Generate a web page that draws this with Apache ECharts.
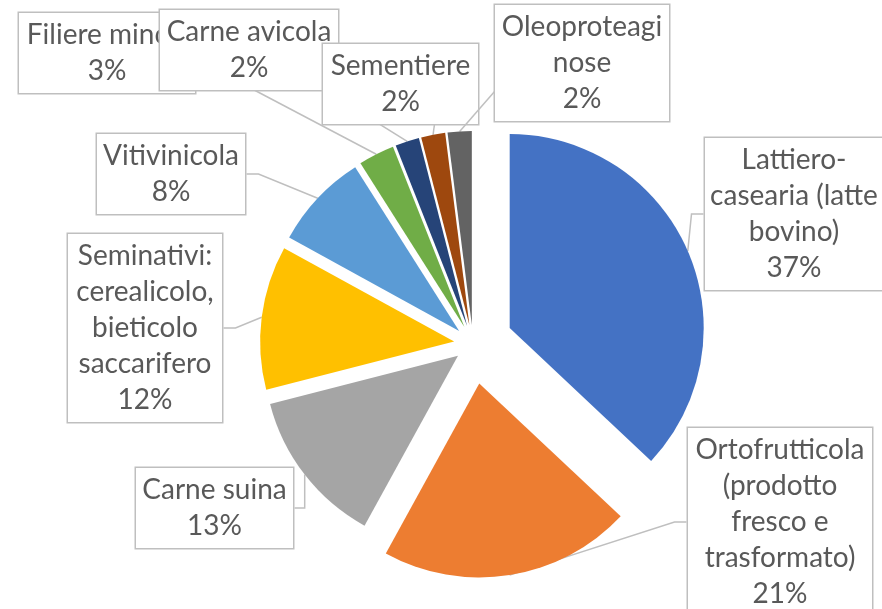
<!DOCTYPE html>
<html>
<head>
<meta charset="utf-8">
<script src="https://cdn.jsdelivr.net/npm/echarts@6/dist/echarts.min.js"></script>
<style>
    html, body { margin: 0; padding: 0; background: #fff; }
    #chart { width: 882px; height: 609px; }
</style>
</head>
<body>
<div id="chart"></div>
<script>
// dati del grafico
var categories = ['Lattiero-casearia (latte bovino)', 'Ortofrutticola (prodotto fresco e trasformato)',
    'Carne suina', 'Seminativi: cerealicolo, bieticolo saccarifero', 'Vitivinicola',
    'Filiere minori', 'Carne avicola', 'Sementiere', 'Oleoproteaginose'];
var labelText = ['Lattiero-\ncasearia (latte\nbovino)', 'Ortofrutticola\n(prodotto\nfresco e\ntrasformato)',
    'Carne suina', 'Seminativi:\ncerealicolo,\nbieticolo\nsaccarifero', 'Vitivinicola',
    'Filiere minori', 'Carne avicola', 'Sementiere', 'Oleoproteagi\nnose'];
var values = [37, 21, 13, 12, 8, 3, 2, 2, 2];
var colors = ['#4472C4', '#ED7D31', '#A5A5A5', '#FFC000', '#5B9BD5', '#70AD47', '#264478', '#9E480E', '#636363'];
// distanza di esplosione di ogni fetta
var explode = [40, 40, 19, 19, 19, 19, 19, 19, 19];

// riquadri etichette: sinistra, alto, larghezza
var boxes = [[705, 138, 178], [688, 428, 184], [136, 468, 157], [68, 234, 154], [97, 134, 148],
    [19, 13, 176], [160, 10, 178], [323, 44, 155], [495, 5, 174]];
// aggancio della linea sul bordo inferiore (frazione della larghezza), null = automatico
var bottomAnchor = [null, null, null, null, null, 0.98, 0.6, 0.75, 0.03];

var cx = 473, cy = 344, radius = 194;
var total = values.reduce(function (a, b) { return a + b; }, 0);

function buildData(k) {
    var out = [];
    for (var i = 0; i < values.length; i++) {
        var mine = i === k;
        out.push({
            name: categories[i],
            value: values[i],
            itemStyle: { color: mine ? colors[i] : 'rgba(0,0,0,0)' },
            label: { show: mine },
            labelLine: { show: mine }
        });
    }
    return out;
}

var series = [];
var acc = 0;
for (var k = 0; k < values.length; k++) {
    // angolo medio della fetta, in senso orario dalle ore 12
    var mid = (acc + values[k] / 2) / total * 2 * Math.PI;
    acc += values[k];
    series.push({
        type: 'pie',
        center: [cx + explode[k] * Math.sin(mid), cy - explode[k] * Math.cos(mid)],
        radius: radius,
        startAngle: 90,
        clockwise: true,
        silent: true,
        avoidLabelOverlap: false,
        animation: false,
        z: 2 + k,
        data: buildData(k),
        label: {
            formatter: function (p) {
                return labelText[p.dataIndex] + '\n' + Math.round(p.value) + '%';
            },
            color: '#595959',
            fontFamily: 'Lato',
            fontSize: 28,
            lineHeight: 36,
            align: 'center',
            backgroundColor: '#fff',
            borderColor: '#bfbfbf',
            borderWidth: 1.5,
            padding: [4, 4]
        },
        labelLine: {
            length: 10,
            length2: 12,
            lineStyle: { color: '#bfbfbf', width: 1.5 }
        },
        labelLayout: function (p) {
            var i = p.dataIndex;
            var b = boxes[i];
            var res = { x: b[0] + b[2] / 2, y: b[1], width: b[2] - 8, align: 'center', verticalAlign: 'top' };
            if (bottomAnchor[i] != null && p.labelLinePoints) {
                var h = labelText[i].split('\n').length * 36 + 44;
                var end = [b[0] + b[2] * bottomAnchor[i], b[1] + h - 36];
                res.labelLinePoints = [p.labelLinePoints[0], end, end];
            }
            return res;
        }
    });
}

var chart = echarts.init(document.getElementById('chart'));
chart.setOption({
    backgroundColor: '#fff',
    animation: false,
    series: series
});
</script>
</body>
</html>
